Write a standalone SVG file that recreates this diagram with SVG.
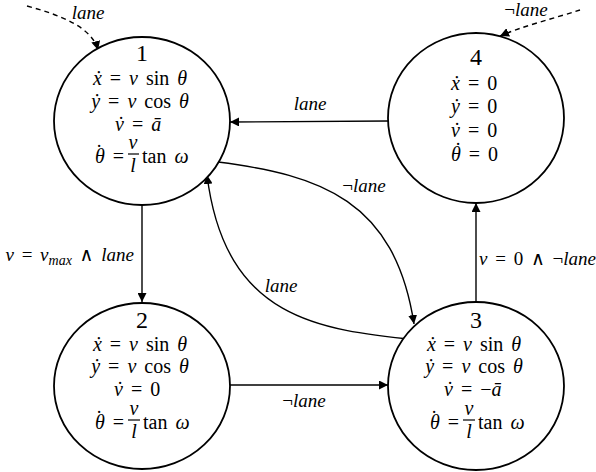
<svg xmlns="http://www.w3.org/2000/svg" width="596" height="472" viewBox="0 0 596 472">
<defs>
<marker id="ah" viewBox="0 0 10 10" refX="10" refY="5" markerWidth="9" markerHeight="9" markerUnits="userSpaceOnUse" orient="auto">
<path d="M0,0 L10,5 L0,10 z" fill="#000"/>
</marker>
</defs>
<style>
text{font-family:'Liberation Serif','Times New Roman','DejaVu Serif',serif;fill:#000;}
.eq{font-size:20px;text-anchor:middle;word-spacing:3px;}
.s{text-anchor:start;}
.e{text-anchor:end;}
.num{font-size:24px;text-anchor:middle;}
.lbl{font-size:19px;word-spacing:3px;}
.i{font-style:italic;}
.dot{font-size:20px;text-anchor:middle;}
.node{fill:#fff;stroke:#000;stroke-width:1.8;}
.c{fill:none;stroke:#000;stroke-width:1.4;marker-end:url(#ah);}
.d{stroke-dasharray:5,4;}
.bar{stroke:#000;stroke-width:1.2;}
</style>
<g id="connectors">
<path class="c d" d="M27,6 C60,15 92,27 98,50"/>
<path class="c d" d="M580,10 C555,18 520,27 500,36"/>
<path class="c" d="M388,121 L230,122"/>
<path class="c" d="M142,206 L142,302"/>
<path class="c" d="M476,302 L476,203"/>
<path class="c" d="M230,385 L388,385"/>
<path class="c" d="M218,162 C320,175 395,200 414,324"/>
<path class="c" d="M418,340 C320,330 225,320 207,175"/>
<text class="lbl i" x="88" y="19" text-anchor="middle">lane</text>
<text class="lbl" x="526" y="16" text-anchor="middle">¬<tspan class="i">lane</tspan></text>
<text class="lbl i" x="310" y="110" text-anchor="middle">lane</text>
<text class="lbl" x="364" y="192" text-anchor="middle">¬<tspan class="i">lane</tspan></text>
<text class="lbl i" x="281" y="292" text-anchor="middle">lane</text>
<text class="lbl" x="304" y="407" text-anchor="middle">¬<tspan class="i">lane</tspan></text>
<text class="lbl" x="134" y="261" text-anchor="end"><tspan class="i">v</tspan> = <tspan class="i">v</tspan><tspan class="i" font-size="14" dy="4">max</tspan><tspan dy="-4"> ∧ </tspan><tspan class="i">lane</tspan></text>
<text class="lbl" x="479" y="265"><tspan class="i">v</tspan> = 0 ∧ ¬<tspan class="i">lane</tspan></text>
</g>
<g id="node1">
<ellipse class="node" cx="142" cy="121" rx="88" ry="84"/>
<text class="num" x="142" y="61">1</text>
<text class="eq" x="140" y="85"><tspan class="i">ẋ</tspan> = <tspan class="i">v</tspan> sin <tspan class="i">θ</tspan></text>
<text class="eq" x="140" y="108"><tspan class="i">ẏ</tspan> = <tspan class="i">v</tspan> cos <tspan class="i">θ</tspan></text>
<text class="eq s" x="115" y="131"><tspan class="i">v</tspan> = <tspan class="i">ā</tspan></text>
<text class="dot" x="121" y="131">˙</text>
<text class="eq e" x="124" y="163"><tspan class="i">θ</tspan> =</text>
<text class="dot" x="99" y="159">˙</text>
<text class="eq i" x="133" y="149">v</text>
<line class="bar" x1="128" y1="154" x2="139" y2="154"/>
<text class="eq i" x="133" y="172">l</text>
<text class="eq s" x="142" y="163">tan <tspan class="i">ω</tspan></text>
</g>
<g id="node2">
<ellipse class="node" cx="142" cy="386" rx="88" ry="83"/>
<text class="num" x="142" y="328">2</text>
<text class="eq" x="140" y="351"><tspan class="i">ẋ</tspan> = <tspan class="i">v</tspan> sin <tspan class="i">θ</tspan></text>
<text class="eq" x="140" y="373"><tspan class="i">ẏ</tspan> = <tspan class="i">v</tspan> cos <tspan class="i">θ</tspan></text>
<text class="eq s" x="114" y="396"><tspan class="i">v</tspan> = 0</text>
<text class="dot" x="120" y="396">˙</text>
<text class="eq e" x="124" y="429"><tspan class="i">θ</tspan> =</text>
<text class="dot" x="99" y="425">˙</text>
<text class="eq i" x="134" y="415">v</text>
<line class="bar" x1="128" y1="420" x2="140" y2="420"/>
<text class="eq i" x="134" y="438">l</text>
<text class="eq s" x="143" y="429">tan <tspan class="i">ω</tspan></text>
</g>
<g id="node3">
<ellipse class="node" cx="476" cy="386" rx="88" ry="84"/>
<text class="num" x="476" y="328">3</text>
<text class="eq" x="474" y="351"><tspan class="i">ẋ</tspan> = <tspan class="i">v</tspan> sin <tspan class="i">θ</tspan></text>
<text class="eq" x="474" y="373"><tspan class="i">ẏ</tspan> = <tspan class="i">v</tspan> cos <tspan class="i">θ</tspan></text>
<text class="eq s" x="444" y="396"><tspan class="i">v</tspan> = −<tspan class="i">ā</tspan></text>
<text class="dot" x="450" y="396">˙</text>
<text class="eq e" x="459" y="429"><tspan class="i">θ</tspan> =</text>
<text class="dot" x="434" y="425">˙</text>
<text class="eq i" x="469" y="415">v</text>
<line class="bar" x1="463" y1="420" x2="475" y2="420"/>
<text class="eq i" x="469" y="438">l</text>
<text class="eq s" x="478" y="429">tan <tspan class="i">ω</tspan></text>
</g>
<g id="node4">
<ellipse class="node" cx="476" cy="118" rx="88" ry="85"/>
<text class="num" x="476" y="65">4</text>
<text class="eq s" x="451" y="90"><tspan class="i">ẋ</tspan> = 0</text>
<text class="eq s" x="451" y="113"><tspan class="i">ẏ</tspan> = 0</text>
<text class="eq s" x="451" y="137"><tspan class="i">v</tspan> = 0</text>
<text class="dot" x="457" y="137">˙</text>
<text class="eq s" x="451" y="161"><tspan class="i">θ</tspan> = 0</text>
<text class="dot" x="458" y="157">˙</text>
</g>
</svg>
